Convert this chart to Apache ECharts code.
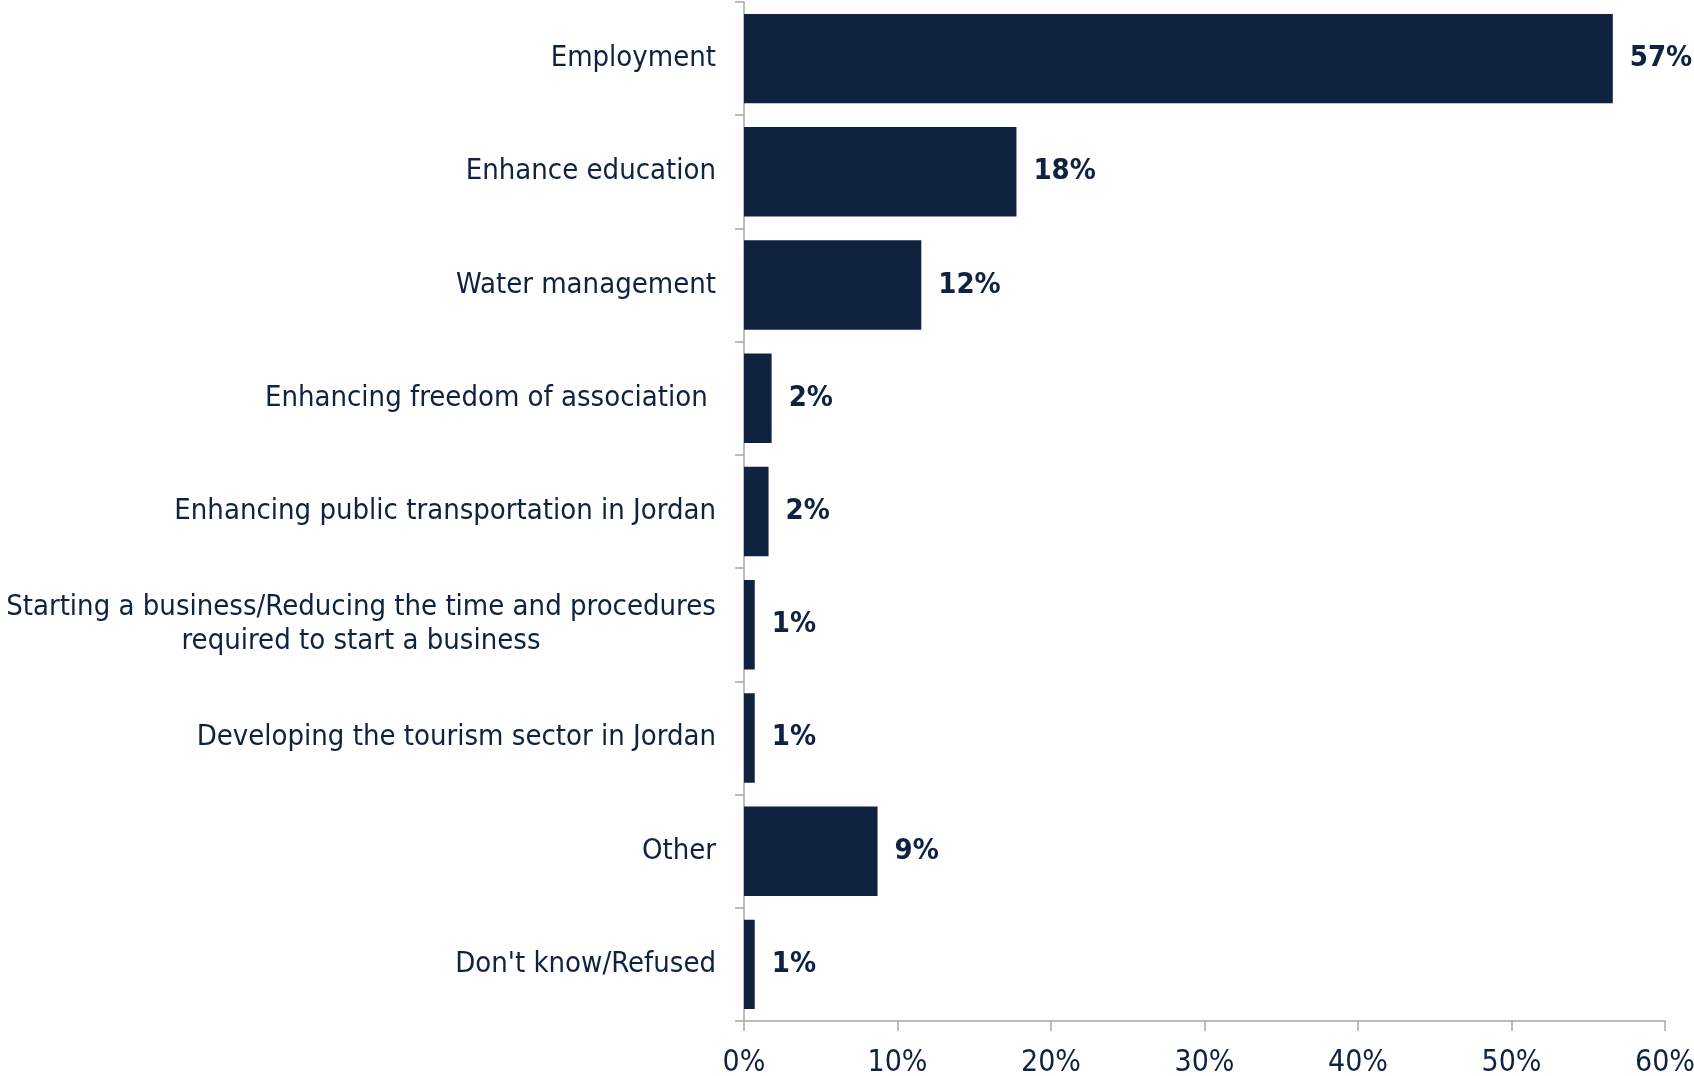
<!DOCTYPE html>
<html><head><meta charset="utf-8">
<script src="https://cdn.jsdelivr.net/npm/echarts@6/dist/echarts.min.js"></script>
<style>html,body{margin:0;padding:0;background:#fff}#c{width:1694px;height:1076px}</style>
</head><body><div id="c"></div>
<script>
const categories = [
  "Employment",
  "Enhance education",
  "Water management",
  "Enhancing freedom of association ",
  "Enhancing public transportation in Jordan",
  "Starting a business/Reducing the time and procedures\nrequired to start a business",
  "Developing the tourism sector in Jordan",
  "Other",
  "Don't know/Refused"
];
const values = [56.6, 17.75, 11.55, 1.8, 1.6, 0.7, 0.7, 8.7, 0.7];
const valueLabels = ["57%", "18%", "12%", "2%", "2%", "1%", "1%", "9%", "1%"];
const xTicks = [0, 10, 20, 30, 40, 50, 60];

const FONT = "'DejaVu Sans Condensed', 'DejaVu Sans', sans-serif";
const CAT_SIZE = 29;
const ctx = document.createElement('canvas').getContext('2d');
ctx.font = CAT_SIZE + 'px ' + FONT;
let maxW = 0;
categories.forEach(v => {
  if (v.indexOf('\n') >= 0) v.split('\n').forEach(l => { maxW = Math.max(maxW, ctx.measureText(l).width); });
});
function catFormatter(v) {
  const lines = v.split('\n');
  if (lines.length === 1) return '{t|' + v + '}';
  return lines.map(l => '{c|' + l + '}').join('\n');
}

const chart = echarts.init(document.getElementById('c'));
chart.setOption({
  animation: false,
  grid: { left: 744, right: 29, top: 2, bottom: 55, containLabel: false, outerBoundsMode: 'none' },
  xAxis: {
    type: 'value', min: xTicks[0], max: xTicks[xTicks.length - 1], interval: 10,
    axisLine: { show: true, lineStyle: { color: '#a6a6a6', width: 1.5 } },
    axisTick: { show: true, length: 10, lineStyle: { color: '#a6a6a6', width: 1.5 } },
    splitLine: { show: false },
    axisLabel: { formatter: v => v + '%', color: '#0f2240', fontFamily: FONT, fontSize: 30, margin: 27 }
  },
  yAxis: {
    type: 'category', data: categories, inverse: true,
    axisLine: { show: true, lineStyle: { color: '#a6a6a6', width: 1.5 } },
    axisTick: { show: true, length: 9, lineStyle: { color: '#a6a6a6', width: 1.5 } },
    axisLabel: {
      color: '#0f2240', fontFamily: FONT, fontSize: CAT_SIZE, lineHeight: 34, margin: 28, align: 'right',
      formatter: catFormatter,
      rich: {
        t: { color: '#0f2240', fontFamily: FONT, fontSize: CAT_SIZE, lineHeight: 36 },
        c: { color: '#0f2240', fontFamily: FONT, fontSize: CAT_SIZE, lineHeight: 34, width: Math.ceil(maxW), align: 'center' }
      }
    }
  },
  series: [{
    type: 'bar', data: values, barCategoryGap: '21%',
    itemStyle: { color: '#0f2340' },
    label: {
      show: true, position: 'right', distance: 17,
      formatter: p => valueLabels[p.dataIndex],
      color: '#0f2240', fontFamily: FONT, fontWeight: 'bold', fontSize: 29
    }
  }]
});
</script></body></html>
